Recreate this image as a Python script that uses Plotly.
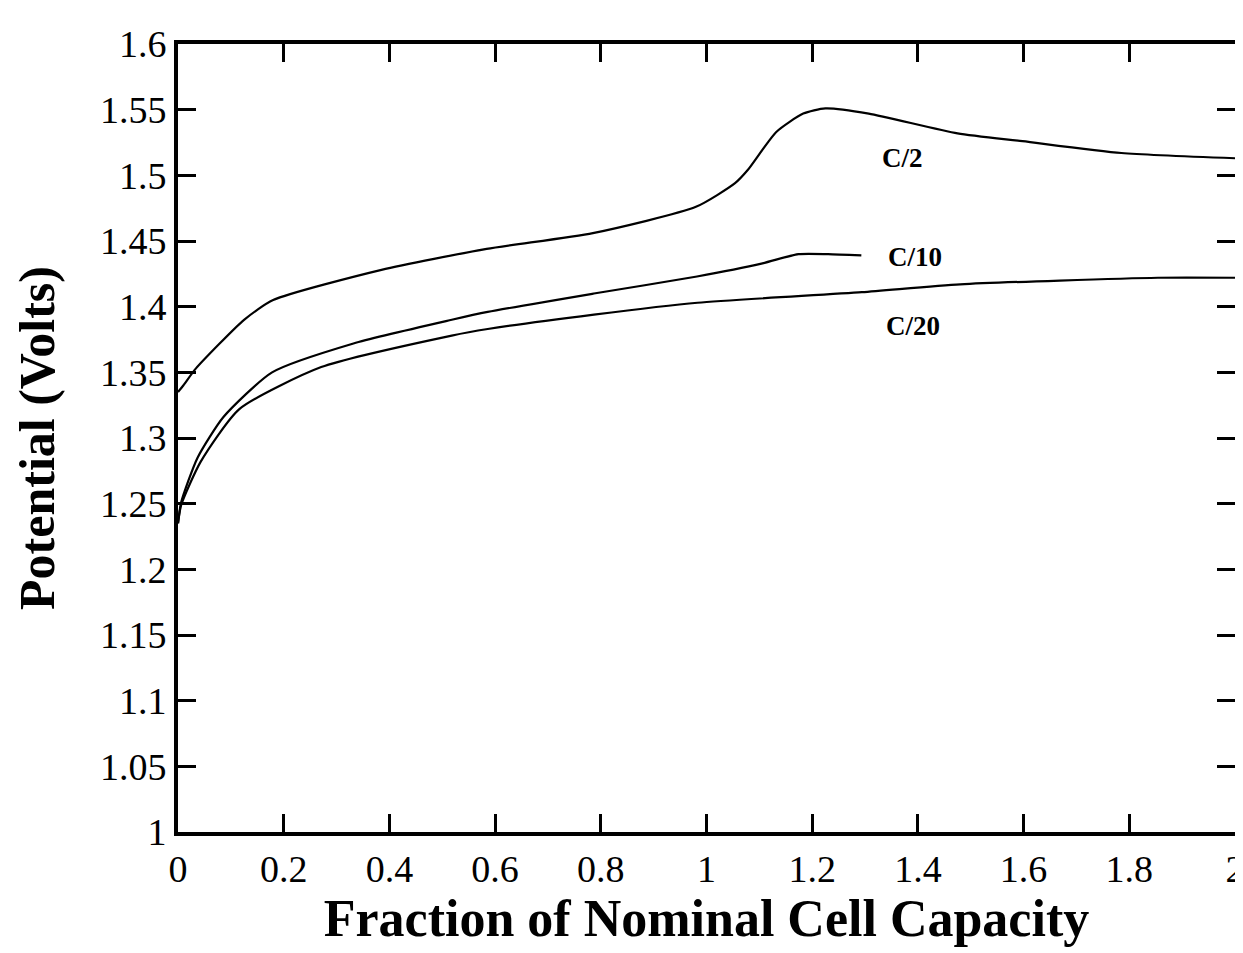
import plotly.graph_objects as go

# C/2 charge curve
c2_x = [0.0, 0.01, 0.034, 0.125, 0.18, 0.385, 0.584, 0.785, 0.98, 1.054, 1.078, 1.132, 1.183, 1.225, 1.307, 1.475, 1.598, 1.785, 2.0]
c2_y = [1.335, 1.34, 1.353, 1.39, 1.405, 1.428, 1.444, 1.456, 1.476, 1.494, 1.504, 1.533, 1.547, 1.551, 1.547, 1.532, 1.526, 1.517, 1.513]

# C/10 charge curve
c10_x = [0.0, 0.006, 0.037, 0.086, 0.178, 0.332, 0.518, 0.586, 0.787, 0.982, 1.106, 1.174, 1.23, 1.293]
c10_y = [1.235, 1.251, 1.285, 1.316, 1.35, 1.372, 1.39, 1.396, 1.41, 1.423, 1.433, 1.44, 1.44, 1.439]

# C/20 charge curve
c20_x = [0.0, 0.006, 0.043, 0.116, 0.271, 0.518, 0.586, 0.787, 0.983, 1.294, 1.48, 1.854, 2.0]
c20_y = [1.235, 1.249, 1.282, 1.322, 1.354, 1.378, 1.383, 1.394, 1.403, 1.411, 1.417, 1.422, 1.422]

labels = ["C/2", "C/10", "C/20"]
label_x = [1.37, 1.394, 1.39]
label_y = [1.513, 1.438, 1.385]

x_ticks = [0, 0.2, 0.4, 0.6, 0.8, 1, 1.2, 1.4, 1.6, 1.8, 2]
x_ticktext = ["0", "0.2", "0.4", "0.6", "0.8", "1", "1.2", "1.4", "1.6", "1.8", "2"]
y_ticks = [1, 1.05, 1.1, 1.15, 1.2, 1.25, 1.3, 1.35, 1.4, 1.45, 1.5, 1.55, 1.6]
y_ticktext = ["1", "1.05", "1.1", "1.15", "1.2", "1.25", "1.3", "1.35", "1.4", "1.45", "1.5", "1.55", "1.6"]

fig = go.Figure()
for xs, ys, name in [(c2_x, c2_y, "C/2"), (c10_x, c10_y, "C/10"), (c20_x, c20_y, "C/20")]:
    fig.add_trace(go.Scatter(x=xs, y=ys, mode="lines", name=name,
                             line=dict(color="black", width=2.2, shape="spline", smoothing=0.6),
                             showlegend=False))

for t, lx, ly in zip(labels, label_x, label_y):
    fig.add_annotation(x=lx, y=ly, text=t, showarrow=False, xanchor="center", yanchor="middle",
                       font=dict(family="Liberation Serif", size=27, color="black", weight="bold"))

serif = "Liberation Serif"
fig.update_layout(
    width=1243, height=953,
    paper_bgcolor="white", plot_bgcolor="white",
    margin=dict(l=170, r=6, t=36, b=129),
    font=dict(family=serif, color="black"),
)
fig.update_xaxes(
    range=[0, 2], tickvals=x_ticks, ticktext=x_ticktext,
    showgrid=False, zeroline=False,
    showline=True, linecolor="black", linewidth=4, mirror="ticks",
    ticks="inside", ticklen=18, tickwidth=3, tickcolor="black",
    tickfont=dict(family=serif, size=38, color="black"),
    title=dict(text="Fraction of Nominal Cell Capacity", standoff=2,
               font=dict(family=serif, size=52, color="black", weight="bold")),
)
fig.update_yaxes(
    range=[1, 1.6], tickvals=y_ticks, ticktext=y_ticktext,
    showgrid=False, zeroline=False,
    showline=True, linecolor="black", linewidth=4, mirror="ticks",
    ticks="inside", ticklen=18, tickwidth=3, tickcolor="black",
    tickfont=dict(family=serif, size=38, color="black"),
    title=dict(text="Potential (Volts)", standoff=30,
               font=dict(family=serif, size=50, color="black", weight="bold")),
)

fig.write_html("out.html")
